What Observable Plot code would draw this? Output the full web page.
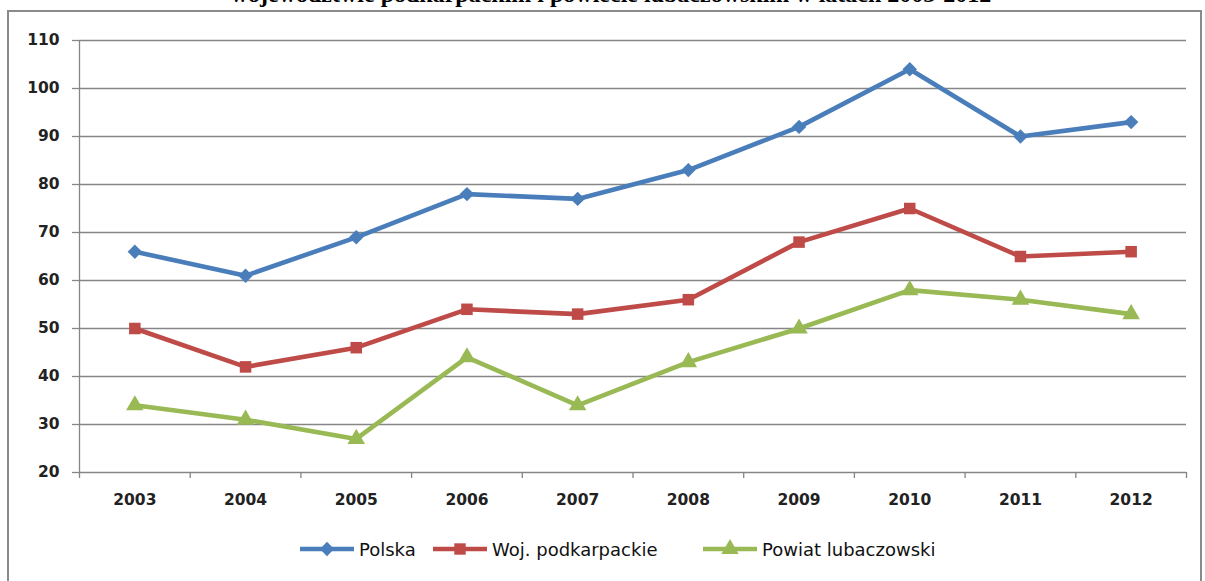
<!DOCTYPE html>
<html>
<head>
<meta charset="utf-8">
<script src="https://cdn.jsdelivr.net/npm/d3@7"></script>
<script src="https://cdn.jsdelivr.net/npm/@observablehq/plot@0.6"></script>
<style>
  html, body { margin: 0; padding: 0; background: #fff; overflow: hidden; }
  body { width: 1205px; height: 581px; position: relative; }
  #title { position: absolute; left: 0; width: 1222px; top: -18px; line-height: 24px; text-align: center;
    font-family: "Liberation Serif", serif; font-weight: bold; font-size: 24px; color: #000; white-space: nowrap; }
  #box { position: absolute; left: 7px; top: 10px; width: 1195px; height: 600px; border: 2px solid #8a8a8a; box-sizing: border-box; }
  #chart { position: absolute; left: 0; top: 0; }
  #legend { position: absolute; top: 537px; left: 0; width: 1205px; height: 24px; }
  .item { position: absolute; display: flex; align-items: center; font-family: "DejaVu Sans", sans-serif; font-size: 18px; color: #111; }
  .item svg { margin-right: 3px; }
</style>
</head>
<body>
<div id="title">województwie podkarpackim i powiecie lubaczowskim w latach 2003-2012</div>
<div id="box"></div>
<div id="chart"></div>
<div id="legend"></div>
<script>
const years = [2003, 2004, 2005, 2006, 2007, 2008, 2009, 2010, 2011, 2012];
const seriesNames = ["Polska", "Woj. podkarpackie", "Powiat lubaczowski"];
const polska = [66, 61, 69, 78, 77, 83, 92, 104, 90, 93];
const podkarpackie = [50, 42, 46, 54, 53, 56, 68, 75, 65, 66];
const lubaczowski = [34, 31, 27, 44, 34, 43, 50, 58, 56, 53];
const yTicks = [20, 30, 40, 50, 60, 70, 80, 90, 100, 110];
const colors = ["#4a7ebb", "#be4b48", "#98b954"];
const symbols = ["diamond2", "square", "triangle"];

const seriesValues = [polska, podkarpackie, lubaczowski];
const data = [];
seriesNames.forEach((s, i) => years.forEach((y, j) => data.push({series: s, year: y, value: seriesValues[i][j]})));
const boundaries = [years[0] - 0.5, ...years.map(y => y + 0.5)];

const gridColor = "#868686";
const tickFont = {fontFamily: "DejaVu Sans, sans-serif", fontSize: 15.5, fontWeight: "bold", fill: "#222"};

const chart = Plot.plot({
  width: 1205,
  height: 520,
  marginLeft: 79,
  marginRight: 19,
  marginTop: 40,
  marginBottom: 48,
  x: {type: "linear", domain: [boundaries[0], boundaries[boundaries.length - 1]], axis: null},
  y: {domain: [20, 110], axis: null},
  color: {domain: seriesNames, range: colors},
  symbol: {domain: seriesNames, range: symbols},
  style: {overflow: "visible"},
  marks: [
    Plot.gridY(yTicks, {stroke: gridColor, strokeOpacity: 1, strokeWidth: 1.3}),
    Plot.axisY(yTicks, {label: null, tickSize: 7, tickPadding: 13, stroke: gridColor, strokeWidth: 1.3, ...tickFont}),
    Plot.ruleX([boundaries[0]], {stroke: gridColor, strokeWidth: 1.3}),
    Plot.axisX(boundaries, {label: null, tickSize: 6, tickFormat: () => "", stroke: gridColor, strokeWidth: 1.3}),
    Plot.axisX(years, {label: null, tickSize: 0, tickPadding: 21, tickFormat: d => String(d), ...tickFont}),
    Plot.line(data, {x: "year", y: "value", z: "series", stroke: "series", strokeWidth: 4.6, strokeLinejoin: "round"}),
    Plot.dot(data, {x: "year", y: "value", symbol: "series", fill: "series", stroke: null, r: 6.5})
  ]
});
document.getElementById("chart").appendChild(chart);

// legend
const legendX = [298, 431, 701];
const legend = document.getElementById("legend");
const symGen = [d3.symbolDiamond2, d3.symbolSquare, d3.symbolTriangle];
seriesNames.forEach((s, i) => {
  const item = document.createElement("div");
  item.className = "item";
  item.style.left = legendX[i] + "px";
  const sym = d3.symbol(symGen[i], 130)();
  item.innerHTML = `<svg width="58" height="24"><line x1="2" x2="56" y1="12" y2="12" stroke="${colors[i]}" stroke-width="4.6"/><path transform="translate(29,12)" d="${sym}" fill="${colors[i]}"/></svg><span>${s}</span>`;
  legend.appendChild(item);
});
</script>
</body>
</html>
